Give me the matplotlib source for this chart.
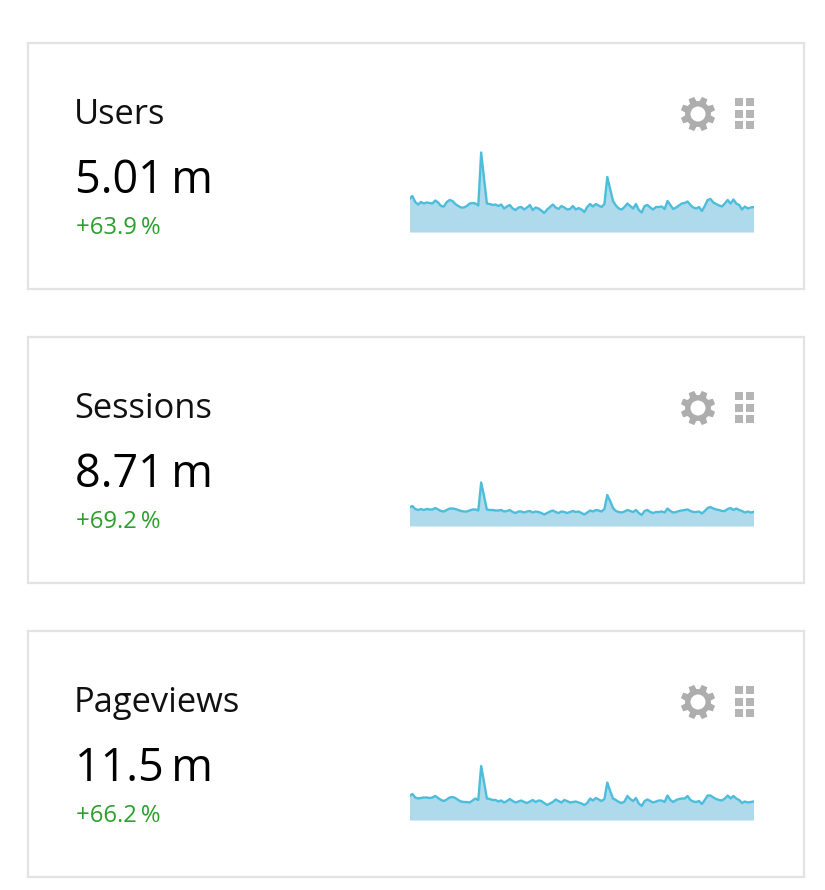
import numpy as np
import matplotlib
matplotlib.use("Agg")
import matplotlib.pyplot as plt
from matplotlib.patches import Rectangle, Polygon, Circle

W, H = 825, 890

titles = ["Users", "Sessions", "Pageviews"]
totals = ["5.01\u2009m", "8.71\u2009m", "11.5\u2009m"]
changes = ["+63.9\u2009%", "+69.2\u2009%", "+66.2\u2009%"]

users = [33, 36, 30, 27.5, 30, 28.5, 29.5, 29, 28.5, 31.5,
         29.5, 26, 25.5, 30, 32, 31, 28, 26, 24.5, 24.5,
         26, 28.5, 29, 28.5, 26.5, 79.5, 53.5, 28.5, 28, 27,
         27.5, 26, 27.5, 23.5, 25.5, 27, 23.5, 22, 24.5, 25,
         22.5, 24.5, 27, 22, 24.5, 23.5, 21.5, 19, 22.5, 25,
         27.5, 24.5, 23, 26, 24.5, 22.5, 23, 26, 22.5, 24,
         22.5, 20, 25, 28, 25.5, 28, 26.5, 25, 28, 55,
         43, 31, 26.5, 23.5, 22.5, 25, 28.5, 26, 23.5, 28,
         22, 19.5, 26, 27, 24.5, 22.5, 25, 25, 25.5, 23,
         31, 27, 23, 24.5, 26.5, 28.5, 29, 30.5, 27, 24.5,
         23.5, 25, 21, 26, 32, 33, 29.5, 28, 26.5, 25.5,
         28.5, 32, 28.5, 32.5, 28.5, 27, 22.5, 25.5, 23.5, 24.5,
         25]
sessions = [18.5, 20, 17, 16, 17, 16, 17, 16.5, 16.5, 18,
            16.5, 15, 14.5, 16, 17.5, 17.5, 17, 16, 15, 14.5,
            14.5, 15.5, 16.5, 16.5, 15.5, 43.5, 30, 16.5, 16, 16,
            15.5, 15.5, 16, 14.5, 15, 16, 14, 13, 14.5, 14.5,
            13.5, 14.5, 15, 13.5, 14.5, 14, 13, 11.5, 13, 14.5,
            15.5, 14, 13, 14.5, 14, 13, 14, 15, 14, 14.5,
            13, 11.5, 13.5, 15.5, 14.5, 16, 15.5, 14.5, 17, 31,
            25, 18, 15, 14, 13.5, 14.5, 16, 15, 14, 16,
            13, 11, 15, 16, 14, 13, 14, 14, 14.5, 13.5,
            17.5, 15, 13.5, 14, 15, 15.5, 16, 16.5, 15, 14,
            14, 14.5, 12.5, 15, 18, 19, 17.5, 16.5, 16, 15,
            15, 17, 18, 16, 17.5, 16, 15, 13.5, 14.5, 13.5,
            14]
pageviews = [24, 26, 22.5, 21.5, 22, 22.5, 22.5, 22, 22.5, 24,
             22, 20, 19, 20.5, 22.5, 23, 22, 20, 18.5, 18,
             18, 17.5, 19.5, 21.5, 20, 54, 38, 21.5, 21, 20,
             20, 18.5, 19.5, 17.5, 19, 21, 19, 17.5, 18.5, 19.5,
             18, 17, 18.5, 20, 18, 19.5, 19, 17, 15, 16.5,
             18, 20.5, 19, 17.5, 20, 19, 17.5, 18, 18.5, 17.5,
             16.5, 15, 17, 21.5, 19.5, 22, 20.5, 19, 21, 37.5,
             29, 21.5, 20, 18, 17, 18.5, 24, 21, 19, 22,
             16.5, 14, 19, 20.5, 19, 17.5, 18.5, 19.5, 19.5, 18,
             24.5, 20, 18, 20, 21, 21.5, 21.5, 24, 20, 18.5,
             18, 19, 16, 20, 24.5, 24.5, 22.5, 21, 20, 19.5,
             21.5, 24.5, 21.5, 24, 21.5, 20, 17, 18.5, 17.5, 18,
             18.5]
series = [users, sessions, pageviews]

CARD_TOPS = [43, 337, 631]
CARD_H = 245.5
GREY = "#adadad"
FONT = ["Open Sans", "DejaVu Sans"]

fig = plt.figure(figsize=(W / 100, H / 100), dpi=100, facecolor="white")
bg = fig.add_axes([0, 0, 1, 1])
bg.set_xlim(0, W)
bg.set_ylim(H, 0)
bg.axis("off")


def gear(ax, cx, cy):
    # eight toothed outline with a hole in the middle
    pts = []
    for k in range(8):
        a = np.pi / 4 * k + np.pi / 8
        for da, r in [(-0.27, 13), (-0.17, 17.5), (0.17, 17.5), (0.27, 13)]:
            pts.append((cx + r * np.cos(a + da), cy + r * np.sin(a + da)))
    ax.add_patch(Polygon(pts, closed=True, fc=GREY, ec="none"))
    ax.add_patch(Circle((cx, cy), 7.5, fc="white", ec="none"))


for top, title, total, change, vals in zip(CARD_TOPS, titles, totals, changes, series):
    bg.add_patch(Rectangle((28, top), 776, CARD_H, fc="white", ec="#e3e3e3", lw=1.6))
    bg.text(74, top + 72.5, title, fontsize=24.8, family=FONT, color="#111111",
            va="center", ha="left")
    bg.text(75, top + 138, total, fontsize=32.3, family=FONT, color="#000000",
            va="center", ha="left")
    bg.text(76, top + 185, change, fontsize=17.2, family=FONT, color="#2b9f2b",
            va="center", ha="left")

    gear(bg, 698, top + 71)
    for ix in (735, 746):
        for iy in (55, 67, 78):
            bg.add_patch(Rectangle((ix, top + iy), 8, 7.5, fc="#b5b5b5", ec="none"))

    # sparkline, 344 px wide, baseline 189 px under the card top
    sp = fig.add_axes([409.5 / W, 1 - (top + 189) / H, 344 / W, 90 / H])
    x = np.arange(len(vals))
    sp.fill_between(x, vals, 0, color="#aedaec", lw=0)
    sp.plot(x, vals, color="#4dbddc", lw=1.7, solid_joinstyle="round")
    sp.set_xlim(0, len(vals) - 1)
    sp.set_ylim(0, 90)
    sp.axis("off")

fig.savefig("out.png", dpi=100, facecolor="white")
